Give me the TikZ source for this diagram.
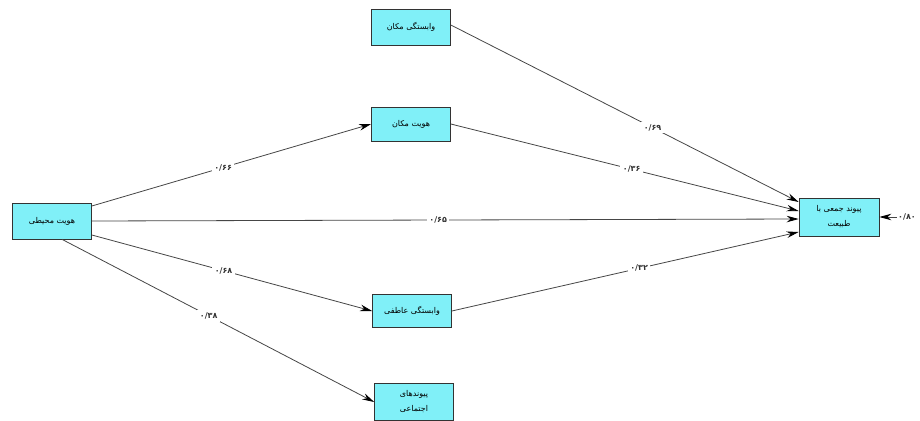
\documentclass[tikz,border=0pt]{standalone}
\usepackage{fontspec}
\TeXXeTstate=1
\newfontfamily\arabicfont[Script=Arabic]{DejaVu Sans}
\usetikzlibrary{arrows.meta}
\definecolor{boxfill}{RGB}{128,240,248}
\definecolor{edgegray}{RGB}{70,70,70}
\tikzset{
  varbox/.style={draw=black!80, line width=0.7pt, fill=boxfill, minimum width=79pt, minimum height=36pt, inner sep=2pt, align=center, font=\arabicfont\fontsize{8}{15}\selectfont},
  arr/.style={draw=edgegray, line width=0.8pt, -{Stealth[length=12pt,width=6.5pt,black]}},
  coef/.style={fill=white, inner sep=2.5pt, font=\arabicfont\bfseries\fontsize{8}{9}\selectfont, text=black!80}
}
\begin{document}
\begin{tikzpicture}[x=1pt,y=-1pt]
\useasboundingbox[fill=white] (0,0) rectangle (920,420);
\node[varbox] (n1) at (411,27) {\beginR وابستگی مکان\endR};
\node[varbox, minimum height=34pt] (n2) at (411,124) {\beginR هویت مکان\endR};
\node[varbox] (n3) at (52,221) {\beginR هویت محیطی\endR};
\node[varbox, minimum width=80pt, minimum height=38pt] (n4) at (839,217) {\beginR پیوند جمعی با\endR\\\beginR طبیعت\endR};
\node[varbox, minimum height=33pt] (n5) at (412,311) {\beginR وابستگی عاطفی\endR};
\node[varbox, minimum height=37pt] (n6) at (414,402) {\beginR پیوندهای\endR\\\beginR اجتماعی\endR};
\draw[arr] ([yshift=15pt]n3.east) -- node[coef, pos=0.47] (c1) {۰/۶۶} (n2.west);
\draw[arr] (n3.east) -- node[coef, pos=0.49] (c2) {۰/۶۵} ([yshift=-2pt]n4.west);
\draw[arr] ([yshift=-14pt]n3.east) -- node[coef, pos=0.47] (c3) {۰/۶۸} (n5.west);
\draw[arr] ([xshift=10pt]n3.south) -- node[coef, pos=0.47] (c4) {۰/۳۸} (n6.west);
\draw[arr] ([yshift=2pt]n1.east) -- node[coef, pos=0.58] (c5) {۰/۶۹} ([yshift=15pt]n4.west);
\draw[arr] (n2.east) -- node[coef, pos=0.52] (c6) {۰/۳۶} ([yshift=6pt]n4.west);
\draw[arr] (n5.east) -- node[coef, pos=0.54] (c7) {۰/۳۲} ([yshift=-15pt]n4.west);
\coordinate (e) at (897,217);
\draw[arr] (e) -- (n4.east);
\node[coef, anchor=west, inner sep=1pt] (c8) at (e) {۰/۸۰};
\end{tikzpicture}
\end{document}
